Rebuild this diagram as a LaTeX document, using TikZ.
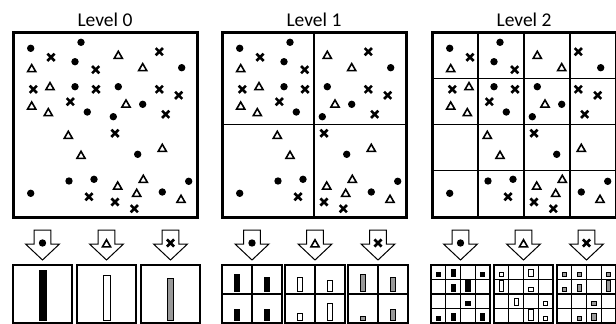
\documentclass[tikz,border=0pt]{standalone}
\usepackage{fontspec}
\setmainfont{Carlito}
\usetikzlibrary{shapes.geometric,shapes.misc}

% marker positions inside a level box (origin = top left corner)
\newcommand\dotlist{17.7/16.3,68/10.3,62/29.7,168.7/35.7,62/54.7,105.3/54.7,74.3/80,100.3/84.7,129.7/72.3,124.7/122.3,56/149,81/147.3,17.7/161.3,149.3/160,175.7/149.3}
\newcommand\crosslist{38/25.3,82.7/37.7,146.3/19.7,20.3/57.3,83/57.3,146.3/57.3,165.7/63.3,57.3/69.7,152.7/82.3,102/101.3,76/164.7,102/170,121.3/176.7}
\newcommand\trilist{105.3/24,18.7/37.3,129.7/36.3,37/55.3,18.7/74.7,35.3/81.3,113/72.7,55.3/104,68/124,149.3/117,104.7/154.7,130.3/148,123.7/162,168/168}

% bars of one histogram box: x, width, cells per side, fill, col/row/count
\newcommand\cellbars[5]{%
  \foreach \c/\r/\m in {#5}{
    \draw[histbar,fill=#4] ({#1+(\c+0.5)*#2/#3-2.1},{265+(\r+1)*58/#3-3}) rectangle ++(4.2,{-(3.35*\m+0.3)});
  }}

\tikzset{
  ptdot/.style={circle,fill=black,inner sep=0pt,minimum size=7.4pt},
  ptcross/.style={cross out,draw=black,line width=2.6pt,inner sep=0pt,minimum size=4.6pt},
  pttri/.style={regular polygon,regular polygon sides=3,draw=black,line width=1.6pt,line join=miter,inner sep=0pt,minimum size=9.4pt},
  levelbox/.style={line width=3pt},
  cellline/.style={line width=1.3pt},
  histframe/.style={line width=1.2pt},
  histbar/.style={draw=black,line width=0.9pt},
  levellabel/.style={font=\fontsize{19.5}{22}\selectfont,anchor=base},
  pics/dnarrow/.style={code={
    \draw[line width=1pt,line join=miter,fill=white]
      (-8.3,-15)--(8.3,-15)--(8.3,-1)--(17,-1)--(0,15)--(-17,-1)--(-8.3,-1)--cycle;}}
}

\begin{document}
\begin{tikzpicture}[x=1pt,y=-1pt]
\useasboundingbox (0,0) rectangle (616,324);

% the three levels
\foreach \lvl/\ox in {0/13,1/222,2/432}{
  \node[levellabel] (lab\lvl) at (\ox+92,26) {Level \lvl};
  \begin{scope}[shift={(\ox,32)}]
    \foreach \x/\y [count=\i] in \dotlist {\node[ptdot] (d\lvl-\i) at (\x,\y) {};}
    \foreach \x/\y [count=\i] in \crosslist {\node[ptcross] (c\lvl-\i) at (\x,\y) {};}
    \foreach \x/\y [count=\i] in \trilist {\node[pttri] (t\lvl-\i) at (\x,\y) {};}
  \end{scope}
}
\draw[cellline] (314,32)--(314,217) (222,124.5)--(406,124.5);
\foreach \f in {1,2,3}{
  \draw[cellline] (432+46*\f,32)--(432+46*\f,217) (432,32+46.25*\f)--(616,32+46.25*\f);
}
\foreach \ox in {13,222,432}{
  \draw[levelbox] (\ox,32) rectangle ++(184,185);
}

% arrows with the marker they stand for
\foreach \ax/\k in {42.5/0,106.5/1,170.5/2,252/0,315/1,378/2,460.5/0,523.5/1,586.5/2}{
  \pic at (\ax,245) {dnarrow};
  \ifcase\k
    \node[ptdot] (ad\ax) at (\ax,243) {};
  \or
    \node[pttri] (at\ax) at (\ax,244.5) {};
  \or
    \node[ptcross] (ac\ax) at (\ax,243) {};
  \fi
}

% histogram frames
\foreach \bx in {13,77,141}{
  \draw[histframe] (\bx,265) rectangle ++(59,58);
}
\foreach \bx in {222,285,348}{
  \draw[histframe] (\bx,265) rectangle ++(60,58);
  \draw[histframe] (\bx+30,265)--++(0,58) (\bx,294)--++(60,0);
}
\foreach \bx in {431,494,557}{
  \draw[histframe] (\bx,265) rectangle ++(59,58);
  \foreach \f in {1,2,3}{
    \draw[histframe] (\bx+\f*14.75,265)--++(0,58) (\bx,265+\f*14.5)--++(59,0);
  }
}

% histogram bars
\draw[histbar,fill=black] (39,320) rectangle ++(7.4,-49.5);
\draw[histbar,fill=white] (103,320) rectangle ++(7,-44.5);
\draw[histbar,fill=black!40] (167.2,320) rectangle ++(6.7,-41.5);

\cellbars{222}{60}{2}{black}{0/0/5,1/0/4,0/1/3,1/1/3}
\cellbars{285}{60}{2}{white}{0/0/4,1/0/3,0/1/2,1/1/5}
\cellbars{348}{60}{2}{black!40}{0/0/5,1/0/4,0/1/1,1/1/3}

\cellbars{431}{59}{4}{black}{0/0/1,1/0/2,3/0/1,1/1/2,2/1/3,2/2/1,0/3/1,1/3/2,3/3/2}
\cellbars{494}{59}{4}{white}{0/0/1,2/0/2,0/1/3,2/1/1,1/2/2,3/2/1,2/3/3,3/3/1}
\cellbars{557}{59}{4}{black!40}{0/0/1,1/0/1,3/0/1,0/1/1,1/1/2,3/1/3,2/2/1,1/3/1,2/3/2}
\end{tikzpicture}
\end{document}
